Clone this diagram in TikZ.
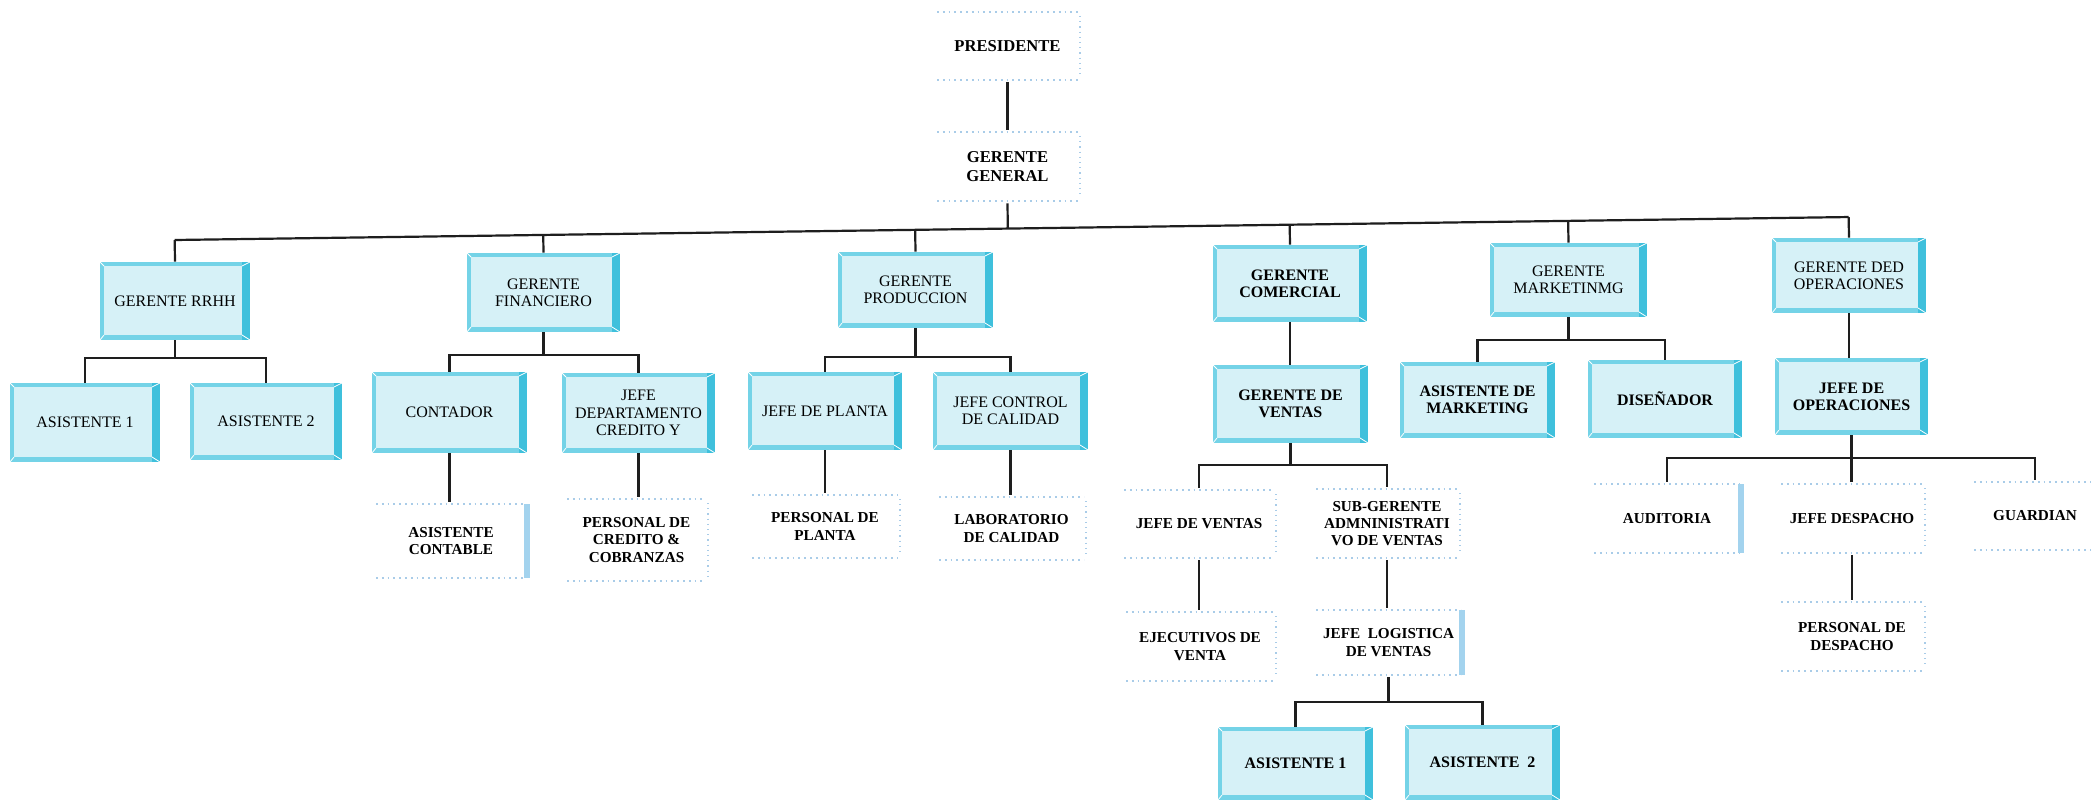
\documentclass[tikz,border=0pt]{standalone}
\usepackage{fontspec}
\setmainfont{Liberation Serif}
\usetikzlibrary{calc}
\definecolor{bevelc}{HTML}{74D3E7}
\definecolor{bevelr}{HTML}{3FC0DC}
\definecolor{innerc}{HTML}{D6F1F7}
\definecolor{faint}{HTML}{A9CCE8}
\definecolor{edgec}{HTML}{A3D3EE}
\definecolor{linec}{HTML}{1E1E1E}
\newcommand\plainlines{%
  \draw[faint, dotted, line width=0.9pt] ([shift={(2pt,-1pt)}]path picture bounding box.north west) -- ([shift={(-2pt,-1pt)}]path picture bounding box.north east);
  \draw[faint, dotted, line width=0.9pt] ([shift={(2pt,1pt)}]path picture bounding box.south west) -- ([shift={(-2pt,1pt)}]path picture bounding box.south east);
  \draw[faint, dotted, line width=0.6pt] ([shift={(-1pt,-3pt)}]path picture bounding box.north east) -- ([shift={(-1pt,3pt)}]path picture bounding box.south east);}
\tikzset{
  bevel/.style={fill=bevelc, draw=none, inner sep=0pt, align=center,
    font=\fontsize{8}{8.6}\selectfont,
    path picture={
      \fill[bevelr] ([xshift=-4pt]path picture bounding box.north east) rectangle (path picture bounding box.south east);
      \fill[innerc] ([shift={(2pt,2.5pt)}]path picture bounding box.south west) rectangle ([shift={(-4pt,-2pt)}]path picture bounding box.north east);
      \draw[white, line width=0.4pt] (path picture bounding box.north west) -- ([shift={(2pt,-2pt)}]path picture bounding box.north west);
      \draw[white, line width=0.4pt] (path picture bounding box.south west) -- ([shift={(2pt,2.5pt)}]path picture bounding box.south west);
      \draw[white, line width=0.4pt] (path picture bounding box.north east) -- ([shift={(-4pt,-2pt)}]path picture bounding box.north east);
      \draw[white, line width=0.4pt] (path picture bounding box.south east) -- ([shift={(-4pt,2.5pt)}]path picture bounding box.south east);
    }},
  bevelb/.style={bevel, font=\fontsize{8}{8.6}\selectfont\bfseries},
  plain/.style={fill=white, draw=none, inner sep=0pt, align=center,
    font=\fontsize{7.6}{8.6}\selectfont\bfseries,
    path picture={\plainlines}},
  plainr/.style={plain,
    path picture={\plainlines
      \fill[edgec] ([xshift=-3pt,yshift=-1pt]path picture bounding box.north east) rectangle ([yshift=1pt]path picture bounding box.south east);}},
  topbox/.style={plain, font=\fontsize{8.3}{9.2}\selectfont\bfseries},
  conn/.style={draw=linec, line width=1.1pt}
}
\newcommand\orgbox[7]{\node[#6, minimum width={(#4-#2)*0.5pt}, minimum height={(#5-#3)*0.5pt}] (#1) at ({(#2+#4)/2},{(#3+#5)/2}) {#7};}
\begin{document}
\begin{tikzpicture}[x=0.5pt, y=-0.5pt]
\useasboundingbox[fill=white] (0,0) rectangle (2091,802);
% top
\orgbox{pres}{933}{10}{1082}{82}{topbox}{PRESIDENTE}
\orgbox{gg}{933}{130}{1082}{203}{topbox}{GERENTE\\GENERAL}
% level 2
\orgbox{rrhh}{100}{262}{250}{340}{bevel}{GERENTE RRHH}
\orgbox{fin}{467}{253}{620}{332}{bevel}{GERENTE\\FINANCIERO}
\orgbox{prod}{838}{252}{993}{328}{bevel}{GERENTE\\PRODUCCION}
\orgbox{com}{1213}{245}{1367}{322}{bevelb}{GERENTE\\COMERCIAL}
\orgbox{mkt}{1490}{243}{1647}{317}{bevel}{GERENTE\\MARKETINMG}
\orgbox{ops}{1772}{238}{1926}{313}{bevel}{GERENTE DED\\OPERACIONES}
% rrhh
\orgbox{aa}{10}{383}{160}{462}{bevel}{ASISTENTE 1}
\orgbox{ab}{190}{383}{342}{460}{bevel}{ASISTENTE 2}
% financiero
\orgbox{cont}{372}{372}{527}{453}{bevel}{CONTADOR}
\orgbox{jdc}{562}{373}{715}{453}{bevel}{JEFE\\DEPARTAMENTO\\CREDITO Y}
\orgbox{asc}{372}{502}{530}{580}{plainr}{ASISTENTE\\CONTABLE}
\orgbox{pcc}{563}{497}{710}{583}{plain}{PERSONAL DE\\CREDITO \&\\COBRANZAS}
% produccion
\orgbox{jp}{748}{372}{902}{450}{bevel}{JEFE DE PLANTA}
\orgbox{jcc}{933}{372}{1088}{450}{bevel}{JEFE CONTROL\\DE CALIDAD}
\orgbox{pp}{748}{493}{902}{560}{plain}{PERSONAL DE\\PLANTA}
\orgbox{lab}{935}{495}{1088}{562}{plain}{LABORATORIO\\DE CALIDAD}
% comercial
\orgbox{gv}{1213}{365}{1368}{443}{bevelb}{GERENTE DE\\VENTAS}
\orgbox{jv}{1120}{488}{1278}{560}{plain}{JEFE DE VENTAS}
\orgbox{sg}{1312}{487}{1462}{560}{plain}{SUB-GERENTE\\ADMNINISTRATI\\VO DE VENTAS}
\orgbox{ej}{1122}{610}{1278}{683}{plain}{EJECUTIVOS DE\\VENTA}
\orgbox{jl}{1312}{608}{1465}{677}{plainr}{JEFE\ \ LOGISTICA\\DE VENTAS}
\orgbox{sa}{1218}{727}{1373}{800}{bevelb}{ASISTENTE 1}
\orgbox{sb}{1405}{725}{1560}{800}{bevelb}{ASISTENTE\ \ 2}
% marketing
\orgbox{amk}{1400}{362}{1555}{438}{bevelb}{ASISTENTE DE\\MARKETING}
\orgbox{dis}{1588}{360}{1742}{438}{bevelb}{DISEÑADOR}
% operaciones
\orgbox{jops}{1775}{358}{1928}{435}{bevelb}{JEFE DE\\OPERACIONES}
\orgbox{aud}{1590}{482}{1744}{555}{plainr}{AUDITORIA}
\orgbox{jd}{1777}{482}{1927}{555}{plain}{JEFE DESPACHO}
\orgbox{gua}{1970}{480}{2100}{552}{plain}{GUARDIAN}
\orgbox{pd}{1777}{600}{1927}{673}{plain}{PERSONAL DE\\DESPACHO}
% connectors
\coordinate (busL) at (0,242.4);
\coordinate (busR) at (2091,213.7);
\draw[conn] (pres.south) -- (gg.north);
\draw[conn] (gg.south) -- ($(busL)!(gg.south)!(busR)$);
\draw[conn] ($(busL)!(rrhh.north)!(busR)$) -- ($(busL)!(ops.north)!(busR)$);
\foreach \n in {rrhh,fin,prod,com,mkt,ops}{
  \draw[conn] (\n.north) -- ($(busL)!(\n.north)!(busR)$);
}
% rrhh
\coordinate (rrbar) at (0,358);
\draw[conn] (rrhh.south) -- (rrhh.south |- rrbar);
\draw[conn] (aa.north) |- (rrhh.south |- rrbar) -| (ab.north);
% financiero
\coordinate (fibar) at (0,355);
\draw[conn] (fin.south) -- (fin.south |- fibar);
\draw[conn] (cont.north) |- (fin.south |- fibar) -| (jdc.north);
\draw[conn] (cont.south) -- (cont.south |- asc.north);
\draw[conn] (jdc.south) -- (jdc.south |- pcc.north);
% produccion
\coordinate (prbar) at (0,357);
\draw[conn] (prod.south) -- (prod.south |- prbar);
\draw[conn] (jp.north) |- (prod.south |- prbar) -| (jcc.north);
\draw[conn] (jp.south) -- (jp.south |- pp.north);
\draw[conn] (jcc.south) -- (jcc.south |- lab.north);
% comercial
\draw[conn] (com.south) -- (com.south |- gv.north);
\coordinate (gvbar) at (0,465);
\draw[conn] (gv.south) -- (gv.south |- gvbar);
\draw[conn] (jv.north) |- (gv.south |- gvbar) -| (sg.north);
\draw[conn] (jv.south) -- (jv.south |- ej.north);
\draw[conn] (sg.south) -- (sg.south |- jl.north);
\coordinate (jlbar) at (0,702);
\draw[conn] (jl.south) -- (jl.south |- jlbar);
\draw[conn] (sa.north) |- (jl.south |- jlbar) -| (sb.north);
% marketing
\coordinate (mkbar) at (0,340);
\draw[conn] (mkt.south) -- (mkt.south |- mkbar);
\draw[conn] (amk.north) |- (mkt.south |- mkbar) -| (dis.north);
% operaciones
\draw[conn] (ops.south) -- (ops.south |- jops.north);
\coordinate (opbar) at (0,458);
\draw[conn] (jops.south) -- (jops.south |- jd.north);
\draw[conn] (aud.north) |- (jops.south |- opbar) -| (gua.north);
\draw[conn] (jd.south) -- (jd.south |- pd.north);
\end{tikzpicture}
\end{document}
